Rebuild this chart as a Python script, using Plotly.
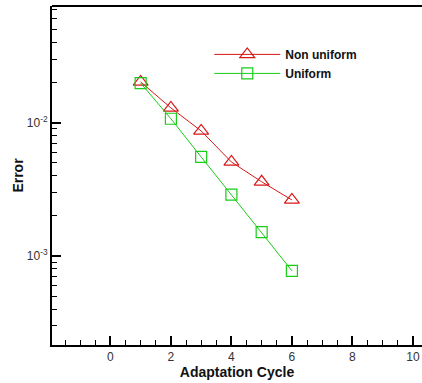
import plotly.graph_objects as go

cycles = [1, 2, 3, 4, 5, 6]
err_nonuniform = [0.0202, 0.0129, 0.00867, 0.00507, 0.0036, 0.00263]
err_uniform = [0.0198, 0.0107, 0.00553, 0.00288, 0.00151, 0.000774]

x_ticks = [0, 2, 4, 6, 8, 10]
y_ticks = [1e-3, 1e-2]
y_ticktext = ["10<sup>-3</sup>", "10<sup>-2</sup>"]

font_family = "Liberation Sans, Arial, sans-serif"

fig = go.Figure()
fig.add_trace(go.Scatter(
    x=cycles, y=err_nonuniform, name="Non uniform", mode="lines+markers",
    line=dict(color="#d81818", width=1),
    marker=dict(symbol="triangle-up-open", size=13, color="#d81818", line=dict(width=1.2)),
))
fig.add_trace(go.Scatter(
    x=cycles, y=err_uniform, name="Uniform", mode="lines+markers",
    line=dict(color="#18cc18", width=1),
    marker=dict(symbol="square-open", size=11, color="#18cc18", line=dict(width=1.2)),
))

minor_y = []
for d in [1e-4, 1e-3, 1e-2]:
    for k in range(2, 10):
        minor_y.append(k * d)

fig.update_layout(
    width=422, height=383,
    margin=dict(l=52, r=0, t=6, b=38),
    paper_bgcolor="white", plot_bgcolor="white",
    font=dict(family=font_family, size=12, color="#333333"),
    showlegend=True,
    legend=dict(
        x=0.425, y=0.90, xanchor="left", yanchor="top",
        bgcolor="rgba(0,0,0,0)", borderwidth=0,
        font=dict(family=font_family, size=12, color="#111111", weight="bold"),
        tracegroupgap=0, itemwidth=66,
    ),
    xaxis=dict(
        range=[-1.93, 10.3],
        tickmode="array", tickvals=x_ticks,
        ticks="inside", ticklen=9, tickwidth=1.5, tickcolor="black",
        showline=True, linecolor="black", linewidth=2, mirror=False,
        showgrid=False, zeroline=False,
        minor=dict(dtick=0.5, tick0=0, ticks="inside", ticklen=5, tickwidth=1.2, tickcolor="black", showgrid=False),
        tickfont=dict(size=12, color="#333333"),
        title=dict(text="Adaptation Cycle", font=dict(size=14, color="#111111", weight="bold"), standoff=0),
    ),
    yaxis=dict(
        type="log", range=[-3.668, -1.125],
        tickmode="array", tickvals=y_ticks, ticktext=y_ticktext,
        ticks="inside", ticklen=9, tickwidth=1.5, tickcolor="black",
        showline=True, linecolor="black", linewidth=2, mirror=False,
        showgrid=False, zeroline=False,
        minor=dict(tickmode="array", tickvals=minor_y, ticks="inside", ticklen=5, tickwidth=1.2, tickcolor="black", showgrid=False),
        tickfont=dict(size=12, color="#333333"),
        title=dict(text="Error", font=dict(size=14, color="#111111", weight="bold"), standoff=0),
    ),
)
fig.add_shape(type="line", xref="paper", yref="paper", x0=0, x1=1, y0=1, y1=1,
              line=dict(color="black", width=2))

fig.write_html("out.html")
